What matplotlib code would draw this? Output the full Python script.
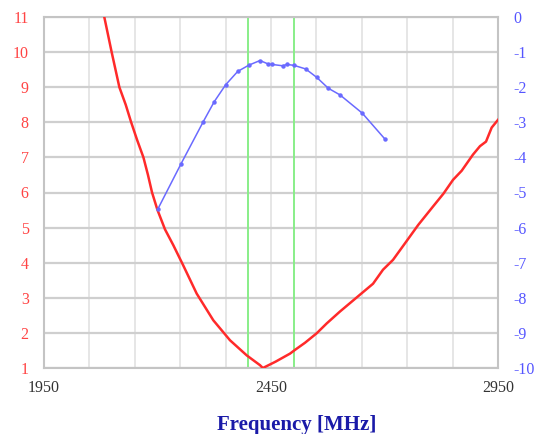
import matplotlib
matplotlib.use("Agg")
import matplotlib.pyplot as plt
import numpy as np

plt.rcParams["axes.unicode_minus"] = False

# SWR curve (left axis)
swr_freq = [2082.8, 2099.0, 2116.0, 2130.0, 2142.0, 2155.0, 2169.0, 2179.0,
            2188.0, 2200.0, 2216.5, 2234.8, 2256.8, 2286.3, 2322.9, 2359.7,
            2396.5, 2425.8, 2432.0, 2436.8, 2460.0, 2491.9, 2502.2, 2525.0,
            2550.7, 2572.7, 2602.0, 2625.0, 2649.8, 2674.7, 2696.7, 2718.7,
            2748.9, 2774.5, 2806.8, 2830.0, 2850.9, 2870.0, 2894.9, 2910.3,
            2923.6, 2936.1, 2950.0]
swr = [11.0, 10.0, 9.0, 8.5, 8.0, 7.5, 7.0, 6.5,
       6.0, 5.5, 4.95, 4.50, 3.92, 3.12, 2.36, 1.79,
       1.36, 1.08, 1.0, 1.03, 1.18, 1.41, 1.51, 1.72,
       1.99, 2.27, 2.61, 2.86, 3.13, 3.40, 3.80, 4.08,
       4.62, 5.08, 5.60, 5.97, 6.36, 6.62, 7.08, 7.32,
       7.45, 7.85, 8.07]

# gain curve (right axis, dB)
gain_freq = [2200.4, 2251.1, 2300.9, 2325.1, 2350.2, 2376.7, 2401.5, 2425.8,
             2444.0, 2451.5, 2475.8, 2485.2, 2501.3, 2526.4, 2550.7, 2576.2,
             2602.0, 2651.1, 2701.1]
gain = [-5.48, -4.20, -2.98, -2.41, -1.93, -1.55, -1.37, -1.24,
        -1.34, -1.35, -1.39, -1.35, -1.38, -1.48, -1.72, -2.03,
        -2.22, -2.74, -3.48]

band = [2400, 2500]

serif = ["Liberation Serif", "DejaVu Serif"]

fig = plt.figure(figsize=(5.39, 4.34), dpi=100)
ax = fig.add_axes([44 / 539, 1 - 368 / 434, 454 / 539, 351 / 434])

ax.set_xlim(1950, 2950)
ax.set_ylim(1, 11)
ax.set_xticks(np.arange(1950, 2951, 100), minor=True)
ax.set_xticks([1950, 2450, 2950])
ax.set_yticks(np.arange(1, 12, 1))

ax.grid(True, axis="x", which="both", color="#e2e2e2", lw=1.2)
ax.grid(True, axis="y", color="#cfcfcf", lw=1.6)
ax.set_axisbelow(True)

for x in band:
    ax.axvline(x, color="#88ee88", lw=1.4, zorder=2)

ax.plot(swr_freq, swr, color="#ff2a2a", lw=1.8, zorder=4)

ax.tick_params(axis="y", length=0, pad=11, labelcolor="#ff4444", labelsize=11.5)
ax.tick_params(axis="x", which="both", length=0, pad=9, labelcolor="#333333", labelsize=11.5)
for lab in ax.get_xticklabels() + ax.get_yticklabels():
    lab.set_family(serif)

for side in ax.spines:
    ax.spines[side].set_color("#c4c4c4")
    ax.spines[side].set_linewidth(1.5)

ax2 = ax.twinx()
ax2.set_ylim(-10, 0)
ax2.set_yticks(np.arange(-10, 1, 1))
ax2.plot(gain_freq, gain, color="#6a6aff", lw=1.1, marker="o", ms=2.2, zorder=5)
ax2.tick_params(axis="y", length=0, pad=11, labelcolor="#5555ff", labelsize=11.5)
for lab in ax2.get_yticklabels():
    lab.set_family(serif)
for side in ax2.spines:
    ax2.spines[side].set_visible(False)

fig.text(297 / 539, 1 - 425 / 434, "Frequency [MHz]", ha="center", va="center",
         family=serif, fontsize=15, fontweight="bold", color="#1a1aa8")

fig.savefig("out.png", dpi=100, facecolor="white")
